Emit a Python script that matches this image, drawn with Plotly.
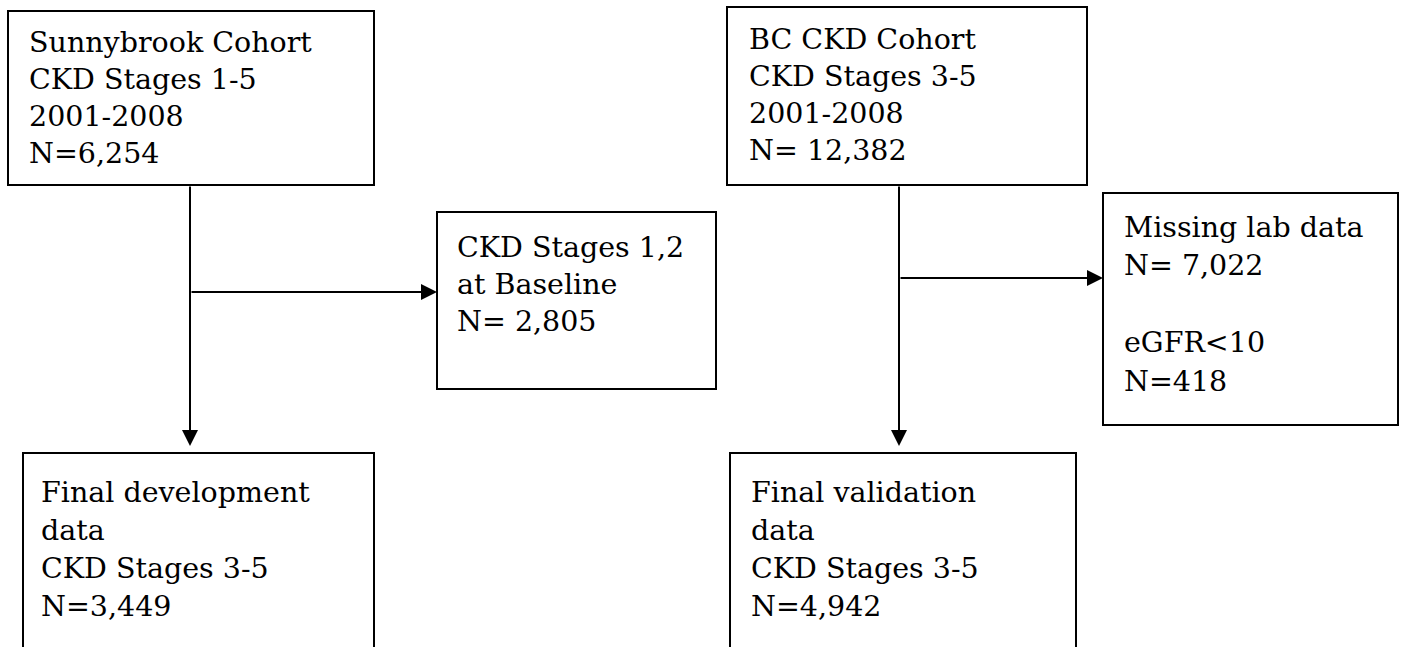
import plotly.graph_objects as go

W, H = 1406, 647

# Flowchart content
box_titles = ["sunnybrook", "excl_left", "final_dev", "bc", "excl_right", "final_val"]
box_lines = {
    "sunnybrook": ["Sunnybrook Cohort", "CKD Stages 1-5", "2001-2008", "N=6,254"],
    "excl_left": ["CKD Stages 1,2", "at Baseline", "N= 2,805"],
    "final_dev": ["Final development", "data", "CKD Stages 3-5", "N=3,449"],
    "bc": ["BC CKD Cohort", "CKD Stages 3-5", "2001-2008", "N= 12,382"],
    "excl_right": ["Missing lab data", "N= 7,022", "", "eGFR<10", "N=418"],
    "final_val": ["Final validation", "data", "CKD Stages 3-5", "N=4,942"],
}

# geometry (pixels)
boxes = {
    "sunnybrook": dict(x0=8, x1=374, y0=11, y1=185, open_bottom=False, tx=27, ty=42, dy=37),
    "excl_left": dict(x0=437, x1=716, y0=212, y1=389, open_bottom=False, tx=455, ty=247, dy=37),
    "final_dev": dict(x0=23, x1=374, y0=453, y1=700, open_bottom=True, tx=39, ty=492, dy=38),
    "bc": dict(x0=727, x1=1087, y0=7, y1=185, open_bottom=False, tx=747, ty=39, dy=37),
    "excl_right": dict(x0=1103, x1=1398, y0=193, y1=425, open_bottom=False, tx=1122, ty=227, dy=38.5),
    "final_val": dict(x0=730, x1=1076, y0=453, y1=700, open_bottom=True, tx=749, ty=492, dy=38),
}

fig = go.Figure()
fig.add_trace(go.Scatter(x=[0, W], y=[0, H], mode="markers", marker=dict(opacity=0), hoverinfo="skip", showlegend=False))

shapes = []
annotations = []
FONT = dict(family="DejaVu Serif", size=28.5, color="black")
for key in box_titles:
    b = boxes[key]
    if b["open_bottom"]:
        path = f"M {b['x0']},{b['y1']} L {b['x0']},{b['y0']} L {b['x1']},{b['y0']} L {b['x1']},{b['y1']}"
        shapes.append(dict(type="path", path=path, xref="x", yref="y", line=dict(color="black", width=2)))
    else:
        shapes.append(dict(type="rect", xref="x", yref="y", x0=b["x0"], x1=b["x1"], y0=b["y0"], y1=b["y1"],
                           line=dict(color="black", width=2), fillcolor="rgba(0,0,0,0)"))
    for i, line in enumerate(box_lines[key]):
        if not line:
            continue
        annotations.append(dict(x=b["tx"], y=b["ty"] + i * b["dy"], xref="x", yref="y", text=line,
                                showarrow=False, xanchor="left", yanchor="middle", font=FONT))

# connectors: vertical trunks and branch lines
connectors = [
    # (x_start, y_start, x_end, y_end)
    (190, 185, 190, 446),
    (190, 292, 437, 292),
    (899, 185, 899, 446),
    (899, 278, 1103, 278),
]
for xs, ys, xe, ye in connectors:
    annotations.append(dict(x=xe, y=ye, ax=xs, ay=ys, xref="x", yref="y", axref="x", ayref="y",
                            text="", showarrow=True, arrowhead=2, arrowsize=1.6, arrowwidth=2,
                            arrowcolor="black", standoff=0))

fig.update_layout(
    width=W, height=H,
    margin=dict(l=0, r=0, t=0, b=0),
    paper_bgcolor="white", plot_bgcolor="white",
    xaxis=dict(range=[0, W], visible=False, fixedrange=True),
    yaxis=dict(range=[H, 0], visible=False, fixedrange=True),
    shapes=shapes, annotations=annotations, showlegend=False,
)
fig.write_html("out.html", config={"displayModeBar": False, "staticPlot": True},
               post_script="document.body.style.margin='0';document.body.style.overflow='hidden';")
